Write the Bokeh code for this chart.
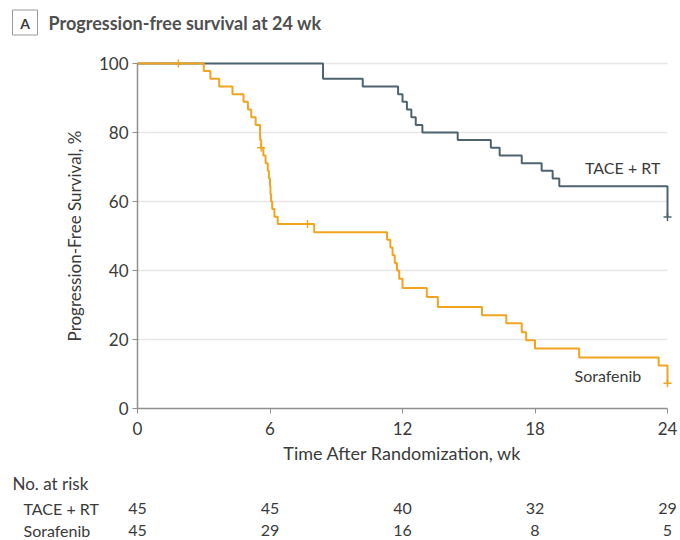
from bokeh.plotting import figure
from bokeh.models import Range1d, FixedTicker, LinearAxis
from bokeh.core.properties import value
from bokeh.embed import file_html
from bokeh.resources import INLINE

# ---- data ----
tace_t = [0, 8.4, 10.2, 11.8, 12.0, 12.2, 12.4, 12.6, 12.9, 14.5, 16.0, 16.4, 17.4, 18.3, 18.8, 19.1, 24.0]
tace_s = [100, 95.6, 93.3, 91.1, 88.9, 86.7, 84.4, 82.2, 80.0, 77.8, 75.6, 73.3, 71.1, 68.9, 66.7, 64.4, 55.5]
tace_cens_t = [24.0]
tace_cens_s = [55.5]

sora_t = [0, 3.0, 3.3, 3.7, 4.3, 4.8, 5.0, 5.15, 5.35, 5.55, 5.6, 5.7, 5.8, 5.9, 5.95, 6.0, 6.02, 6.05,
          6.1, 6.2, 6.35, 8.0, 11.3, 11.45, 11.55, 11.65, 11.75, 11.85, 12.0, 13.1, 13.6, 15.6, 16.7,
          17.4, 17.6, 18.0, 20.0, 23.6, 24.0]
sora_s = [100, 97.8, 95.6, 93.3, 91.1, 88.9, 86.7, 84.4, 82.2, 77.8, 75.6, 73.3, 71.1, 68.9, 66.7, 64.4,
          62.2, 60.0, 57.8, 55.6, 53.5, 51.1, 48.9, 46.7, 44.4, 42.2, 40.0, 37.6, 34.9, 32.3, 29.4, 27.0,
          24.7, 22.1, 19.8, 17.4, 14.8, 12.5, 7.3]
sora_cens_t = [1.85, 5.6, 7.7, 24.0]
sora_cens_s = [100, 75.6, 53.5, 7.3]

x_ticks = [0, 6, 12, 18, 24]
y_ticks = [0, 20, 40, 60, 80, 100]
risk_times = [0, 6, 12, 18, 24]
risk_tace = [45, 45, 40, 32, 29]
risk_sora = [45, 29, 16, 8, 5]
group_names = ["TACE + RT", "Sorafenib"]

TACE_COLOR = "#4d6470"
SORA_COLOR = "#f2a41f"
TXT = "#3a3a3a"
AXC = "#8f8f8f"
FONT = "Lato"

W, H = 680, 540
X0_PX, X24_PX = 137, 667      # pixel of 0 wk and 24 wk
Y0_PX, Y100_PX = 408, 63      # pixel of 0 % and 100 %
PXW = (X24_PX - X0_PX) / 24.0
PXH = (Y0_PX - Y100_PX) / 100.0


def dx(px):  # canvas pixel x -> data x
    return (px - X0_PX) / PXW


def dy(py):  # canvas pixel y -> data y
    return (Y0_PX - py) / PXH


p = figure(width=W, height=H, x_range=Range1d(dx(0), dx(W)), y_range=Range1d(dy(H), dy(0)),
           output_backend="svg", toolbar_location=None, min_border=0,
           x_axis_location=None, y_axis_location=None)
p.outline_line_color = None
p.grid.visible = False

# axes drawn at fixed locations inside the full-canvas frame
xa = LinearAxis(fixed_location=0, bounds=(0, 24), ticker=FixedTicker(ticks=x_ticks),
                axis_label="Time After Randomization, wk")
ya = LinearAxis(fixed_location=0, bounds=(0, 100), ticker=FixedTicker(ticks=y_ticks),
                axis_label="Progression-Free Survival, %")
for ax in (xa, ya):
    ax.axis_line_color = AXC
    ax.axis_line_width = 1.5
    ax.major_tick_line_color = AXC
    ax.major_tick_out = 5
    ax.major_tick_in = 0
    ax.minor_tick_line_color = None
    ax.major_label_text_font = FONT
    ax.major_label_text_font_size = "17px"
    ax.major_label_text_color = TXT
    ax.axis_label_text_font = FONT
    ax.axis_label_text_font_size = "18px"
    ax.axis_label_text_font_style = "normal"
    ax.axis_label_text_color = TXT
ya.axis_label_text_font_size = "17px"
xa.major_label_standoff = 8
xa.axis_label_standoff = 4
ya.major_label_standoff = 4
ya.axis_label_standoff = 11
p.add_layout(xa, "below")
p.add_layout(ya, "left")

# horizontal grid lines at the y ticks, across the data span
grid_y = [v for v in y_ticks if v > 0]
p.segment(x0=[0] * len(grid_y), x1=[24] * len(grid_y), y0=grid_y, y1=grid_y,
          line_color="#e6e6e6", line_width=1.5, level="underlay")

# curves
p.step(tace_t, tace_s, mode="after", line_color=TACE_COLOR, line_width=2)
p.step(sora_t, sora_s, mode="after", line_color=SORA_COLOR, line_width=2)
p.scatter(tace_cens_t, tace_cens_s, marker="cross", size=8, line_color=TACE_COLOR, line_width=1.5)
p.scatter(sora_cens_t, sora_cens_s, marker="cross", size=8, line_color=SORA_COLOR, line_width=1.5)


def txt(xs, ys, texts, size="16px", align="left", style="normal", color=TXT):
    p.text(x=xs, y=ys, text=texts, text_font=value(FONT), text_font_size=size,
           text_font_style=style, text_color=color, text_align=align, text_baseline="middle")


# curve labels
txt([21.97], [69.8], [group_names[0]], align="center")
txt([21.3], [9.6], [group_names[1]], align="center")

# header
p.rect(x=[dx(24.5)], y=[dy(22)], width=25, height=25, width_units="screen", height_units="screen",
       fill_color=None, line_color="#9a9a9a", line_width=1)
txt([dx(24.5)], [dy(22.5)], ["A"], size="14px", align="center", style="bold")
txt([dx(48)], [dy(22)], ["Progression-free survival at 24 wk"], size="18px", style="bold", color="#505050")

# number at risk table
txt([dx(12)], [dy(483)], ["No. at risk"], size="17px")
txt([dx(23), dx(23)], [dy(508), dy(530)], group_names)
txt(risk_times, [dy(508)] * len(risk_times), [str(v) for v in risk_tace], align="center")
txt(risk_times, [dy(530)] * len(risk_times), [str(v) for v in risk_sora], align="center")

open("out.html", "w").write(file_html(p, INLINE))
